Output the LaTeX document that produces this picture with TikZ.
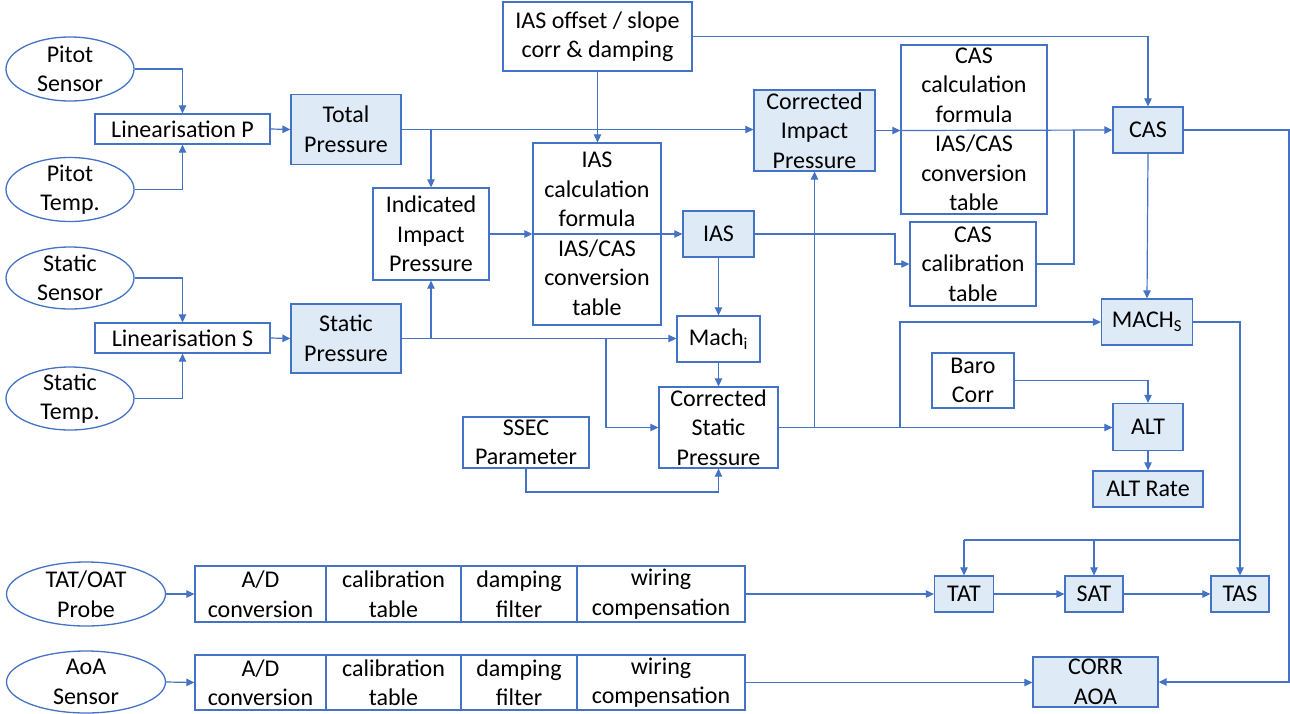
\documentclass[tikz,border=0pt]{standalone}
\usepackage{fontspec}
\setmainfont{Carlito}
\usetikzlibrary{arrows.meta,shapes.geometric}
\definecolor{lb}{HTML}{4472C4}
\definecolor{fb}{HTML}{DEEAF6}
\tikzset{
  box/.style={draw=lb, line width=1.3pt, fill=white, align=center, inner sep=0pt,
    font=\fontsize{24}{29.5}\selectfont},
  fillbox/.style={box, fill=fb},
  ell/.style={draw=lb, line width=1.3pt, ellipse, inner sep=0pt},
  txt/.style={align=center, inner sep=0pt, font=\fontsize{24}{29.5}\selectfont},
  arr/.style={draw=lb, line width=1.2pt, -{Triangle[length=8pt,width=7.5pt]}},
  ln/.style={draw=lb, line width=1.2pt},
}
\begin{document}
\begin{tikzpicture}[x=1pt,y=-1pt]
\useasboundingbox (0,0) rectangle (1290,713);
% ellipses
\node[ell, minimum width=128pt, minimum height=64pt] (pitS) at (70,69) {};
\node[txt] (pitSt) at (pitS) {Pitot\\Sensor};
\node[ell, minimum width=128pt, minimum height=64pt] (pitT) at (70,189.5) {};
\node[txt] (pitTt) at (pitT) {Pitot\\Temp.};
\node[ell, minimum width=128pt, minimum height=62pt] (statS) at (70,278) {};
\node[txt] (statSt) at (statS) {Static\\Sensor};
\node[ell, minimum width=128pt, minimum height=63pt] (statT) at (70,398.5) {};
\node[txt] (statTt) at (statT) {Static\\Temp.};
\node[ell, minimum width=159pt, minimum height=64pt] (tatoat) at (86,594) {};
\node[txt] (tatoatt) at (tatoat) {TAT/OAT\\Probe};
\node[ell, minimum width=159pt, minimum height=62pt] (aoa) at (86,682) {};
\node[txt] (aoat) at (aoa) {AoA\\Sensor};
% boxes
\node[box, minimum width=175pt, minimum height=30pt] (linP) at (182.5,129) {Linearisation P};
\node[box, minimum width=175pt, minimum height=30pt] (linS) at (182.5,338) {Linearisation S};
\node[fillbox, minimum width=110pt, minimum height=70pt] (totP) at (346,129.5) {Total\\Pressure};
\node[fillbox, minimum width=110pt, minimum height=69pt] (statP) at (346,338.5) {Static\\Pressure};
\node[box, minimum width=116pt, minimum height=92pt] (iip) at (431,234) {Indicated\\Impact\\Pressure};
\node[box, minimum width=189pt, minimum height=69pt] (iasoff) at (597.5,36.5) {IAS offset / slope\\corr \& damping};
\node[box, minimum width=128pt, minimum height=182pt] (iascalc) at (597,234) {IAS\\calculation\\formula\\IAS/CAS\\conversion\\table};
\node[fillbox, minimum width=71pt, minimum height=46pt] (ias) at (718.5,234) {IAS};
\node[box, minimum width=83pt, minimum height=46pt] (machi) at (718.5,339) {Mach\textsubscript{i}};
\node[fillbox, minimum width=121pt, minimum height=81pt] (cip) at (814.5,130.5) {Corrected\\Impact\\Pressure};
\node[box, minimum width=146pt, minimum height=169pt] (cascalc) at (974,129.5) {CAS\\calculation\\formula\\IAS/CAS\\conversion\\table};
\node[box, minimum width=126pt, minimum height=84pt] (cascal) at (973,264) {CAS\\calibration\\table};
\node[fillbox, minimum width=70pt, minimum height=46pt] (cas) at (1148,130) {CAS};
\node[fillbox, minimum width=91pt, minimum height=46pt] (machs) at (1147,322) {MACH\textsubscript{S}};
\node[box, minimum width=82pt, minimum height=55pt] (baro) at (973,380.5) {Baro\\Corr};
\node[box, minimum width=119pt, minimum height=81pt] (csp) at (718.5,427.5) {Corrected\\Static\\Pressure};
\node[box, minimum width=126pt, minimum height=51pt] (ssec) at (526,442.5) {SSEC\\Parameter};
\node[fillbox, minimum width=70pt, minimum height=47pt] (alt) at (1148,427) {ALT};
\node[fillbox, minimum width=110pt, minimum height=36pt] (altr) at (1148,489) {ALT Rate};
\node[fillbox, minimum width=59pt, minimum height=36pt] (tat) at (964,594) {TAT};
\node[fillbox, minimum width=58pt, minimum height=36pt] (sat) at (1094,594) {SAT};
\node[fillbox, minimum width=58pt, minimum height=36pt] (tas) at (1240,594) {TAS};
\node[fillbox, minimum width=125pt, minimum height=50pt] (corr) at (1095.5,682) {CORR\\AOA};
% bottom rows
\node[box, minimum width=131pt, minimum height=56pt] (c11) at (260.5,594) {A/D\\conversion};
\node[box, minimum width=135pt, minimum height=56pt] (c12) at (393.5,594) {calibration\\table};
\node[box, minimum width=116pt, minimum height=56pt] (c13) at (519,594) {damping\\filter};
\node[box, minimum width=168pt, minimum height=56pt] (c14) at (661,594) {wiring\\compensation};
\node[box, minimum width=131pt, minimum height=55pt] (c21) at (260.5,682.5) {A/D\\conversion};
\node[box, minimum width=135pt, minimum height=55pt] (c22) at (393.5,682.5) {calibration\\table};
\node[box, minimum width=116pt, minimum height=55pt] (c23) at (519,682.5) {damping\\filter};
\node[box, minimum width=168pt, minimum height=55pt] (c24) at (661,682.5) {wiring\\compensation};
% bend coordinates
\coordinate (b1) at (606,0);
\coordinate (b2) at (895,0);
\coordinate (b3) at (1074,0);
\coordinate (b4) at (900,0);
\coordinate (b5) at (0,492);
\coordinate (b7) at (1289,0);
\coordinate (j) at (1240,540);
% connectors
\draw[arr] (pitS.east) -| (linP.north);
\draw[arr] (pitT.east) -| (linP.south);
\draw[arr] (statS.east) -| (linS.north);
\draw[arr] (statT.east) -| (linS.south);
\draw[arr] (linP.east) -- (totP.west);
\draw[arr] (linS.east) -- (statP.west);
\draw[arr] (totP.east) -- (totP.east -| cip.west);
\draw[arr] (totP.east -| iip.north) -- (iip.north);
\draw[arr] (statP.east) -- (statP.east -| machi.west);
\draw[arr] (statP.east -| iip.south) -- (iip.south);
\draw[arr] (statP.east -| b1) |- (csp.west);
\draw[arr] (iasoff.south) -- (iasoff.south |- iascalc.north);
\draw[arr] (iasoff.east) -| (cas.north);
\draw[arr] (iip.east) -- (iip.east -| iascalc.west);
\draw[arr] (iip.east -| iascalc.west) -- (ias.west);
\draw[arr] (ias.south) -- (machi.north);
\draw[arr] (machi.south) -- (csp.north);
\draw[arr] (ias.east) -- (ias.east -| b2) |- (cascal.west);
\draw[arr] (cip.east) -- (cip.east -| cascalc.west);
\draw[arr] (cip.east -| cascalc.west) -- (cas.west);
\draw[ln] (cascal.east) -| (b3 |- cas.west);
\draw[arr] (csp.east) -- (csp.east -| alt.west);
\draw[arr] (csp.east -| cip.south) -- (cip.south);
\draw[arr] (csp.east -| b4) |- (machs.west);
\draw[arr] (cas.south) -- (machs.north);
\draw[arr] (baro.east) -| (alt.north);
\draw[arr] (alt.south) -- (altr.north);
\draw[arr] (ssec.south) -- (ssec.south |- b5) -| (csp.south);
\draw[arr] (machs.east) -| (tas.north);
\draw[ln] (j -| tat.north) -- (j);
\draw[arr] (j -| tat.north) -- (tat.north);
\draw[arr] (j -| sat.north) -- (sat.north);
\draw[arr] (tat.east) -- (sat.west);
\draw[arr] (sat.east) -- (tas.west);
\draw[arr] (tatoat.east) -- (c11.west);
\draw[arr] (c14.east) -- (c14.east -| tat.west);
\draw[arr] (aoa.east) -- (c21.west);
\draw[arr] (c24.east) -- (c24.east -| corr.west);
\draw[arr] (cas.east) -- (cas.east -| b7) |- (corr.east);
\end{tikzpicture}
\end{document}
